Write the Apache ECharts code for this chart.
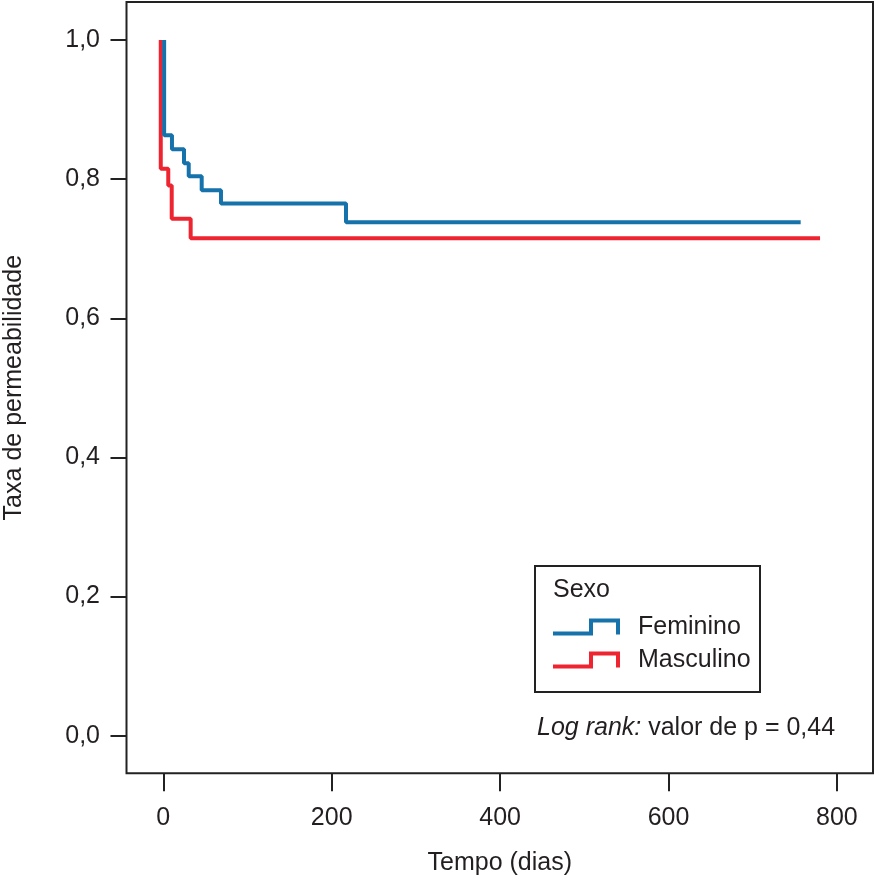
<!DOCTYPE html>
<html>
<head>
<meta charset="utf-8">
<script src="https://cdn.jsdelivr.net/npm/echarts@6/dist/echarts.min.js"></script>
<style>
html,body{margin:0;padding:0;background:#fff;}
#chart{width:875px;height:876px;}
</style>
</head>
<body>
<div id="chart"></div>
<script>
// ---- data ----
var xTicks = [0, 200, 400, 600, 800];
var yTicks = [0, 0.2, 0.4, 0.6, 0.8, 1.0];
var seriesNames = ['Feminino', 'Masculino'];
// Kaplan–Meier steps: [time (days), survival after the event]
var feminino = [[1, 1.0], [1, 0.863], [10.3, 0.843], [24.6, 0.823], [30.2, 0.804], [45.6, 0.784], [68.5, 0.765], [217, 0.738], [757, 0.738]];
var masculino = [[-3, 1.0], [-3, 0.815], [5.9, 0.791], [10, 0.743], [32.5, 0.715], [780, 0.715]];
var legendTitle = 'Sexo';
var noteItalic = 'Log rank:';
var noteRest = ' valor de p = 0,44';
var xTitle = 'Tempo (dias)';
var yTitle = 'Taxa de permeabilidade';

var FONT = "'Liberation Sans', Arial, sans-serif";
var FS = 25;
var TXT = '#231f20';
var BLUE = '#1572ab';
var RED = '#ee2530';
var stepIcon = 'path://M0 13 L36 13 L36 0 L67 0 L67 16 L63 16 L63 4 L40 4 L40 17 L0 17 Z';

var chart = echarts.init(document.getElementById('chart'), null, {renderer: 'canvas'});
chart.setOption({
  backgroundColor: '#fff',
  animation: false,
  textStyle: {fontFamily: FONT, color: TXT},
  grid: {
    left: 126.5, right: 2, top: 2, bottom: 102.7,
    show: true, borderColor: '#222', borderWidth: 2, backgroundColor: 'transparent',
    containLabel: false, outerBoundsMode: 'none'
  },
  xAxis: {
    type: 'value', min: -43.7, max: 842.9,
    name: xTitle, nameLocation: 'middle', nameGap: 77,
    nameTextStyle: {fontFamily: FONT, fontSize: FS, color: TXT, lineHeight: FS},
    axisLine: {show: false, onZero: false},
    axisTick: {show: true, customValues: xTicks, length: 18, lineStyle: {color: '#222', width: 2}},
    axisLabel: {customValues: xTicks, margin: 32, fontFamily: FONT, fontSize: FS, color: TXT, lineHeight: FS},
    splitLine: {show: false}
  },
  yAxis: {
    type: 'value', min: -0.054, max: 1.0546,
    name: yTitle, nameLocation: 'middle', nameGap: 100,
    nameTextStyle: {fontFamily: FONT, fontSize: FS, color: TXT, lineHeight: FS},
    axisLine: {show: false, onZero: false},
    axisTick: {show: true, customValues: yTicks, length: 16, lineStyle: {color: '#222', width: 2}},
    axisLabel: {
      customValues: yTicks, margin: 26.5, fontFamily: FONT, fontSize: FS, color: TXT, lineHeight: FS,
      formatter: function (v) { return v.toFixed(1).replace('.', ','); }
    },
    splitLine: {show: false}
  },
  legend: {
    orient: 'vertical', left: 553, top: 614.5, padding: 0,
    itemWidth: 67, itemHeight: 17, itemGap: 8,
    data: [
      {name: seriesNames[0], icon: stepIcon, itemStyle: {color: BLUE, borderWidth: 0}},
      {name: seriesNames[1], icon: stepIcon, itemStyle: {color: RED, borderWidth: 0}}
    ],
    textStyle: {fontFamily: FONT, fontSize: FS, color: TXT, lineHeight: FS, padding: [0, 0, 0, 13]},
    selectedMode: false
  },
  graphic: [
    {type: 'rect', shape: {x: 535, y: 566, width: 225, height: 126}, style: {fill: 'none', stroke: '#222', lineWidth: 2}, silent: true},
    {type: 'text', x: 553, y: 590, style: {text: legendTitle, font: FS + 'px ' + FONT, fill: TXT, verticalAlign: 'middle', align: 'left'}},
    {type: 'text', x: 537, y: 728.3, style: {
      text: '{i|' + noteItalic + '}{r|' + noteRest + '}',
      verticalAlign: 'middle', align: 'left',
      rich: {
        i: {fontFamily: FONT, fontSize: FS, fontStyle: 'italic', fill: TXT, color: TXT},
        r: {fontFamily: FONT, fontSize: FS, fill: TXT, color: TXT}
      }
    }}
  ],
  series: [
    {name: seriesNames[0], type: 'line', step: 'end', data: feminino, showSymbol: false, symbol: 'none',
     lineStyle: {color: BLUE, width: 4}, itemStyle: {color: BLUE}, z: 3},
    {name: seriesNames[1], type: 'line', step: 'end', data: masculino, showSymbol: false, symbol: 'none',
     lineStyle: {color: RED, width: 4}, itemStyle: {color: RED}, z: 2}
  ]
});
</script>
</body>
</html>
